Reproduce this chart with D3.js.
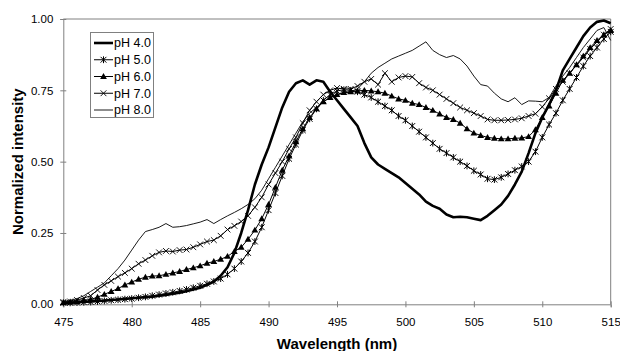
<!DOCTYPE html>
<html>
<head>
<meta charset="utf-8">
<script src="https://cdn.jsdelivr.net/npm/d3@7"></script>
<style>
  html, body { margin: 0; padding: 0; background: #fff; }
  svg { display: block; font-family: Arial, "Liberation Sans", sans-serif; }
</style>
</head>
<body>
<svg id="chart" width="620" height="351"></svg>
<script>
// Normalized emission spectra at five pH values, sampled every 0.5 nm (475–515 nm).

const wavelengths = d3.range(0, 81).map(i => 475 + i * 0.5);

const pH4 = [
  0.005, 0.005, 0.007, 0.008, 0.010, 0.012, 0.013, 0.015, 0.017, 0.019,
  0.021, 0.023, 0.025, 0.027, 0.030, 0.033, 0.037, 0.041, 0.046, 0.052,
  0.058, 0.068, 0.080, 0.100, 0.130, 0.180, 0.250, 0.330, 0.420, 0.490,
  0.550, 0.620, 0.690, 0.745, 0.775, 0.785, 0.770, 0.785, 0.780, 0.745,
  0.715, 0.685, 0.655, 0.625, 0.565, 0.515, 0.490, 0.475, 0.460, 0.445,
  0.425, 0.405, 0.385, 0.360, 0.345, 0.335, 0.315, 0.305, 0.307, 0.305,
  0.300, 0.295, 0.310, 0.330, 0.350, 0.380, 0.420, 0.465, 0.530, 0.600,
  0.655, 0.700, 0.750, 0.820, 0.860, 0.900, 0.940, 0.970, 0.990, 0.995,
  0.985
];

const pH5 = [
  0.005, 0.005, 0.006, 0.007, 0.008, 0.010, 0.012, 0.014, 0.016, 0.018,
  0.020, 0.023, 0.026, 0.030, 0.034, 0.038, 0.042, 0.047, 0.052, 0.058,
  0.065, 0.072, 0.080, 0.090, 0.105, 0.125, 0.150, 0.180, 0.220, 0.270,
  0.330, 0.390, 0.450, 0.510, 0.560, 0.610, 0.650, 0.685, 0.715, 0.735,
  0.748, 0.752, 0.750, 0.745, 0.735, 0.725, 0.710, 0.695, 0.680, 0.660,
  0.645, 0.625, 0.605, 0.585, 0.565, 0.545, 0.530, 0.515, 0.500, 0.485,
  0.468, 0.455, 0.440, 0.437, 0.445, 0.457, 0.470, 0.483, 0.500, 0.535,
  0.585, 0.630, 0.670, 0.715, 0.755, 0.795, 0.835, 0.870, 0.900, 0.930,
  0.955
];

const pH6 = [
  0.006, 0.008, 0.010, 0.013, 0.017, 0.025, 0.035, 0.045, 0.055, 0.068,
  0.078, 0.088, 0.095, 0.099, 0.100, 0.105, 0.110, 0.115, 0.122, 0.128,
  0.135, 0.144, 0.150, 0.158, 0.168, 0.185, 0.200, 0.228, 0.260, 0.300,
  0.350, 0.410, 0.470, 0.520, 0.570, 0.615, 0.655, 0.685, 0.710, 0.725,
  0.735, 0.742, 0.745, 0.748, 0.750, 0.748, 0.745, 0.740, 0.730, 0.720,
  0.715, 0.705, 0.700, 0.690, 0.680, 0.667, 0.655, 0.648, 0.635, 0.615,
  0.600, 0.592, 0.585, 0.582, 0.580, 0.580, 0.582, 0.583, 0.588, 0.612,
  0.655, 0.695, 0.740, 0.785, 0.810, 0.840, 0.870, 0.900, 0.925, 0.945,
  0.960
];

const pH7 = [
  0.008, 0.010, 0.015, 0.022, 0.030, 0.050, 0.068, 0.082, 0.097, 0.110,
  0.125, 0.142, 0.155, 0.170, 0.182, 0.187, 0.185, 0.190, 0.192, 0.200,
  0.210, 0.220, 0.225, 0.240, 0.262, 0.275, 0.290, 0.310, 0.340, 0.375,
  0.420, 0.460, 0.500, 0.545, 0.585, 0.635, 0.680, 0.710, 0.735, 0.750,
  0.758, 0.755, 0.755, 0.765, 0.780, 0.790, 0.770, 0.810, 0.780, 0.795,
  0.800, 0.797, 0.775, 0.760, 0.750, 0.735, 0.720, 0.705, 0.690, 0.680,
  0.670, 0.660, 0.648, 0.645, 0.645, 0.646, 0.648, 0.652, 0.660, 0.668,
  0.692, 0.722, 0.755, 0.780, 0.810, 0.838, 0.865, 0.895, 0.920, 0.945,
  0.965
];

const pH8 = [
  0.010, 0.013, 0.020, 0.030, 0.045, 0.060, 0.075, 0.100, 0.125, 0.155,
  0.190, 0.225, 0.255, 0.262, 0.270, 0.283, 0.270, 0.272, 0.276, 0.282,
  0.288, 0.297, 0.283, 0.297, 0.310, 0.322, 0.335, 0.350, 0.370, 0.400,
  0.440, 0.480, 0.520, 0.560, 0.600, 0.640, 0.670, 0.690, 0.710, 0.725,
  0.735, 0.740, 0.745, 0.755, 0.780, 0.810, 0.830, 0.845, 0.860, 0.870,
  0.880, 0.890, 0.905, 0.920, 0.890, 0.875, 0.865, 0.872, 0.860, 0.835,
  0.800, 0.770, 0.765, 0.740, 0.720, 0.710, 0.724, 0.700, 0.713, 0.712,
  0.710, 0.725, 0.765, 0.800, 0.830, 0.865, 0.900, 0.930, 0.960, 0.970,
  0.925
];

const seriesNames = ['pH 4.0', 'pH 5.0', 'pH 6.0', 'pH 7.0', 'pH 8.0'];
const seriesValues = [pH4, pH5, pH6, pH7, pH8];
const seriesMarkers = ['none', 'star', 'triangle', 'cross', 'none'];
const seriesWidths = [2.6, 1, 1, 1, 0.9];

const xTicks = [475, 480, 485, 490, 495, 500, 505, 510, 515];
const yTicks = [0, 0.25, 0.5, 0.75, 1];

// ── layout ──
const svg = d3.select('#chart');
const plot = { left: 63.3, right: 610.7, top: 19, bottom: 304.3 };
const axisGrey = '#808080';

const x = d3.scaleLinear().domain([475, 515]).range([plot.left, plot.right]);
const y = d3.scaleLinear().domain([0, 1]).range([plot.bottom, plot.top]);

// plot frame (top + right)
svg.append('path')
  .attr('d', `M${plot.left},${plot.top}H${plot.right}V${plot.bottom}`)
  .attr('fill', 'none')
  .attr('stroke', axisGrey)
  .attr('stroke-width', 1);

// axes
const xAxis = svg.append('g')
  .attr('transform', `translate(0,${plot.bottom})`)
  .call(d3.axisBottom(x).tickValues(xTicks).tickSizeOuter(0).tickSize(3).tickPadding(11));
xAxis.selectAll('.tick line').attr('y1', -3).attr('y2', 3);

const yAxis = svg.append('g')
  .attr('transform', `translate(${plot.left},0)`)
  .call(d3.axisLeft(y).tickValues(yTicks).tickFormat(d3.format('.2f')).tickSizeOuter(0).tickSize(3).tickPadding(7));
yAxis.selectAll('.tick line').attr('x1', 3).attr('x2', -3);

[xAxis, yAxis].forEach(g => {
  g.select('.domain').attr('stroke', axisGrey);
  g.selectAll('.tick line').attr('stroke', axisGrey);
  g.selectAll('.tick text')
    .attr('fill', '#000')
    .style('font-size', '11.5px')
    .style('font-family', 'Arial, "Liberation Sans", sans-serif');
});

// axis titles
svg.append('text')
  .attr('x', (plot.left + plot.right) / 2)
  .attr('y', 349)
  .attr('text-anchor', 'middle')
  .style('font-size', '15px')
  .style('font-weight', 'bold')
  .text('Wavelength (nm)');

svg.append('text')
  .attr('transform', `translate(23,${(plot.top + plot.bottom) / 2}) rotate(-90)`)
  .attr('text-anchor', 'middle')
  .style('font-size', '15px')
  .style('font-weight', 'bold')
  .text('Normalized intensity');

// ── markers ──
function drawMarker(g, type, cx, cy) {
  const s = 2.9;
  if (type === 'star') {
    g.append('path')
      .attr('d', `M${cx - s},${cy - s}L${cx + s},${cy + s}M${cx - s},${cy + s}L${cx + s},${cy - s}M${cx},${cy - s - 0.5}V${cy + s + 0.5}`)
      .attr('stroke', '#000').attr('stroke-width', 1).attr('fill', 'none');
  } else if (type === 'cross') {
    g.append('path')
      .attr('d', `M${cx - s},${cy - s}L${cx + s},${cy + s}M${cx - s},${cy + s}L${cx + s},${cy - s}`)
      .attr('stroke', '#000').attr('stroke-width', 0.9).attr('fill', 'none');
  } else if (type === 'triangle') {
    g.append('path')
      .attr('d', `M${cx},${cy - 3.4}L${cx + 3.4},${cy + 2.5}L${cx - 3.4},${cy + 2.5}Z`)
      .attr('fill', '#000');
  }
}

// ── series ──
const line = d3.line()
  .x((d, i) => x(wavelengths[i]))
  .y(d => y(d));

const seriesG = svg.append('g');
seriesValues.forEach((vals, k) => {
  const g = seriesG.append('g');
  g.append('path')
    .datum(vals)
    .attr('d', line)
    .attr('fill', 'none')
    .attr('stroke', '#000')
    .attr('stroke-width', seriesWidths[k])
    .attr('stroke-linejoin', 'round');
  if (seriesMarkers[k] !== 'none') {
    vals.forEach((v, i) => drawMarker(g, seriesMarkers[k], x(wavelengths[i]), y(v)));
  }
});

// ── legend ──
const legend = svg.append('g');
legend.append('rect')
  .attr('x', 90.5).attr('y', 32.5)
  .attr('width', 63).attr('height', 85)
  .attr('fill', '#fff')
  .attr('stroke', axisGrey)
  .attr('stroke-width', 1);

seriesNames.forEach((name, k) => {
  const cy = 43 + k * 16.75;
  legend.append('line')
    .attr('x1', 94).attr('x2', 113)
    .attr('y1', cy).attr('y2', cy)
    .attr('stroke', '#000')
    .attr('stroke-width', seriesWidths[k]);
  if (seriesMarkers[k] !== 'none') drawMarker(legend, seriesMarkers[k], 103.5, cy);
  legend.append('text')
    .attr('x', 114)
    .attr('y', cy + 4.4)
    .style('font-size', '12.5px')
    .text(name);
});
</script>
</body>
</html>
